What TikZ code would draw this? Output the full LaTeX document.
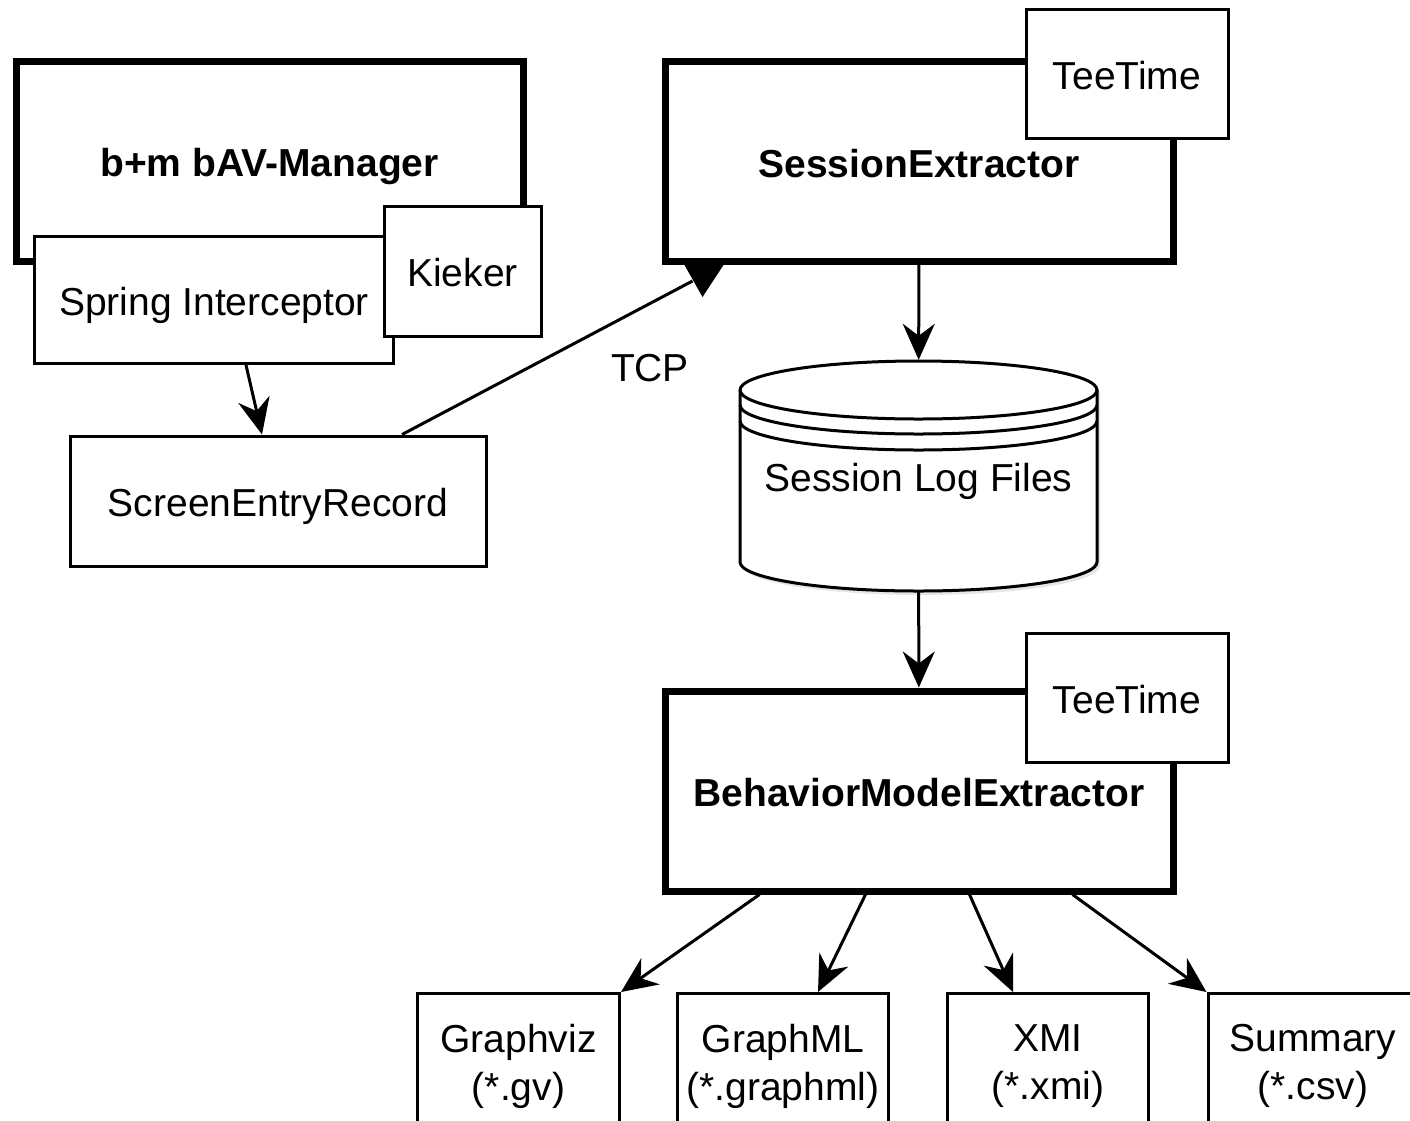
\documentclass[tikz,border=0pt]{standalone}
\usepackage{fontspec}
\setmainfont{Liberation Sans}
\usetikzlibrary{arrows.meta, shadows}

\tikzset{
    txt/.style={text height=33pt, text depth=2pt},
    comp/.style={draw, txt, line width=7pt, minimum width=508pt, minimum height=200pt, font=\fontsize{39}{48}\selectfont\bfseries},
    box/.style={draw, line width=3pt, fill=white, inner sep=2pt, align=center},
    flow/.style={-{Stealth[length=36pt, width=32pt, inset=12pt]}, line width=3pt},
}

\begin{document}
\begin{tikzpicture}[x=1pt, y=-1pt, font=\fontsize{39}{48}\selectfont]
    \clip (0,0) rectangle (1410,1120);

    % Monitored application
    \node[comp, minimum width=507pt] (bav) at (269.5,161) {b+m bAV-Manager};
    \node[box, txt, minimum width=359pt, minimum height=127pt] (spring) at (214,300) {Spring Interceptor};
    \node[box, txt, minimum width=157pt, minimum height=130pt] (kieker) at (462.5,271) {Kieker};
    \node[box, txt, minimum width=416pt, minimum height=130pt] (ser) at (278,501) {ScreenEntryRecord};

    % Session extraction
    \node[comp] (sessx) at (919,161.5) {SessionExtractor};
    \node[box, txt, minimum width=202pt, minimum height=129pt] (tee1) at (1127,73.5) {TeeTime};

    % Session log files
    \filldraw[fill=white, line width=3pt, drop shadow={opacity=0.2, shadow xshift=3pt, shadow yshift=-4pt}]
        (740,390) -- (740,562) arc[start angle=180, end angle=360, x radius=178.5pt, y radius=29pt]
        -- (1097,390) arc[start angle=0, end angle=180, x radius=178.5pt, y radius=29pt] -- cycle;
    \foreach \dy in {0,15,31} {
        \draw[line width=3pt] (740,{390+\dy}) arc[start angle=180, end angle=360, x radius=178.5pt, y radius=29pt];
    }
    \node[txt, minimum width=357pt, minimum height=232pt] (logs) at (918.5,476) {Session Log Files};

    % Behavior model extraction
    \node[comp] (bmx) at (919,791) {BehaviorModelExtractor};
    \node[box, txt, minimum width=202pt, minimum height=129pt] (tee2) at (1127,697.5) {TeeTime};

    % Output formats
    \foreach \name/\x/\w/\fmt/\ext in {gv/518.5/202/Graphviz/gv, gml/783/211/GraphML/graphml, xmi/1048/201/XMI/xmi, sum/1313/210/Summary/csv} {
        \node[box, minimum width=\w pt, minimum height=145pt] (\name) at (\x,1066) {\fmt\\(*.\ext)};
    }

    % Arrows
    \draw[flow] ([xshift=32pt]spring.south) -- ([xshift=-16pt]ser.north);
    \coordinate (tcpend) at ([shift={(31,16)}]sessx.south west);
    \draw[line width=3pt] ([xshift=124pt]ser.north) -- (tcpend);
    \fill ([xshift=23pt]sessx.south west) -- ([xshift=62pt]sessx.south west) -- ([shift={(41,32)}]sessx.south west) -- cycle;
    \node (tcp) at (650,368) {TCP};
    \draw[flow] (sessx) -- (logs);
    \draw[flow] (logs) -- (bmx);

    \draw[flow] ([xshift=98pt]bmx.south west) -- (gv.north east);
    \draw[flow] ([xshift=204pt]bmx.south west) -- ([xshift=35pt]gml.north);
    \draw[flow] ([xshift=308pt]bmx.south west) -- ([xshift=-35pt]xmi.north);
    \draw[flow] ([xshift=411pt]bmx.south west) -- (sum.north west);
\end{tikzpicture}
\end{document}
